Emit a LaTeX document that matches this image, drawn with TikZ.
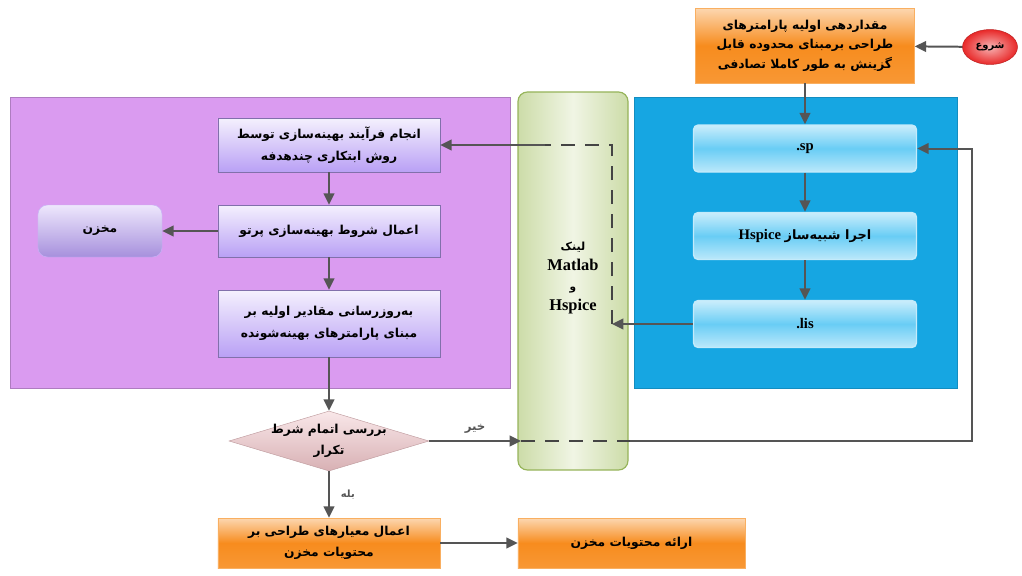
\documentclass[tikz,border=0pt]{standalone}
\usepackage{fontspec}
\setmainfont{Liberation Serif}
\newfontfamily\fa[Script=Arabic]{DejaVu Sans}
\TeXXeTstate=1
\usetikzlibrary{arrows.meta,shapes.geometric,positioning}
\definecolor{FlowOrange} {RGB}{247,140, 30}
\definecolor{FlowPurple} {RGB}{218,155,240}
\definecolor{FlowLav}    {RGB}{185,160,245}
\definecolor{FlowBlue}   {RGB}{ 22,166,226}
\definecolor{FlowCyan}   {RGB}{105,205,245}
\definecolor{FlowGreen}  {RGB}{218,230,188}
\definecolor{FlowOlive}  {RGB}{150,180, 90}
\definecolor{FlowPink}   {RGB}{240,196,200}
\definecolor{FlowRed}    {RGB}{232, 40, 40}
\definecolor{ArrGray}    {RGB}{ 85, 85, 85}
\newcommand{\fl}[1]{\beginR #1\endR}
\tikzset{
  %% panels
  panelP/.style={rectangle,fill=FlowPurple,draw=FlowPurple!80!black,
                 line width=0.4pt,inner sep=0pt},
  panelB/.style={rectangle,fill=FlowBlue,draw=FlowBlue!85!black,
                 line width=0.4pt,inner sep=0pt},
  panelG/.style={rectangle,rounded corners=8pt,draw=FlowOlive,line width=1pt,
                 left color=FlowGreen!80!FlowOlive,right color=FlowGreen!80!FlowOlive,
                 middle color=FlowGreen!40!white,inner sep=0pt,align=center},
  %% boxes
  obox/.style={rectangle,draw=FlowOrange!70!white,
               top color=FlowOrange!35!white,bottom color=FlowOrange!90!white,
               middle color=FlowOrange,
               minimum width=6.66cm,minimum height=1.5cm,align=center,
               font=\fa\bfseries\fontsize{10.5}{18}\selectfont},
  pbox/.style={rectangle,draw=FlowLav!70!black,
               top color=white!85!FlowLav,bottom color=FlowLav,
               minimum width=6.66cm,minimum height=1.56cm,align=center,
               font=\fa\bfseries\fontsize{10.5}{18.5}\selectfont},
  bbox/.style={rectangle,rounded corners=4pt,draw=white!60!FlowCyan,line width=1.2pt,
               top color=FlowCyan!35!white,bottom color=FlowCyan!45!white,
               middle color=FlowCyan,
               minimum width=6.69cm,minimum height=1.41cm,align=center,
               font=\bfseries\fontsize{12.5}{14}\selectfont},
  mbox/.style={rectangle,rounded corners=8pt,draw=FlowLav!80!white,
               top color=white!75!FlowLav,bottom color=FlowLav!90!black,
               minimum width=3.72cm,minimum height=1.56cm,align=center,
               font=\fa\bfseries\fontsize{10.5}{15}\selectfont},
  dbox/.style={diamond,aspect=3.3,inner sep=0pt,draw=FlowPink!80!black,
               top color=FlowPink!40!white,bottom color=FlowPink!90!black,
               minimum width=6cm,minimum height=1.8cm},
  dtext/.style={align=center,font=\fa\bfseries\fontsize{10.5}{18}\selectfont},
  sbox/.style={ellipse,inner color=FlowRed!35!white,outer color=FlowRed,
               draw=FlowRed!80!black,
               minimum width=1.65cm,minimum height=1.05cm,inner sep=0pt,
               font=\fa\bfseries\fontsize{8.5}{10}\selectfont},
  lbl/.style={font=\fa\bfseries\fontsize{10}{12}\selectfont},
  %% arrows
  parr/.style={-{Triangle[length=3.4mm,width=3.2mm]},line width=1.7pt,color=ArrGray},
  pdash/.style={line width=1.7pt,color=ArrGray!80!black,
                dash pattern=on 4.2mm off 3mm},
}
\begin{document}
\begin{tikzpicture}[x=0.03cm,y=-0.03cm]
    \useasboundingbox (0,0) rectangle (1022,575);

    %% ── panels ─────────────────────────────────────────────
    \node[panelP,minimum width=15cm,minimum height=8.73cm] (pnlP) at (260,242.5) {};
    \node[panelB,minimum width=9.69cm,minimum height=8.73cm] (pnlB) at (795.5,242.5) {};
    \node[panelG,minimum width=3.3cm,minimum height=11.34cm] (pnlG) at (573,281) {};
    \node[font=\bfseries\fontsize{14}{17}\selectfont,align=center] (lnk) at (573,278)
      {{\fa\fontsize{9.5}{16}\selectfont\fl{لینک}}\\Matlab\\{\fa\fontsize{9}{12}\selectfont\fl{و}}\\Hspice};

    %% ── start and initialisation ──────────────────────────
    \node[sbox] (st) at (990,47) {\fl{شروع}};
    \node[obox,minimum width=6.57cm,minimum height=2.25cm,
          font=\fa\bfseries\fontsize{10.5}{16.5}\selectfont] (ini) at (805,45.5)
      {\fl{مقداردهی اولیه پارامترهای}\\\fl{طراحی  برمبنای محدوده قابل}\\\fl{گزینش به طور کاملا تصادفی}};
    \draw[parr] (st) -- (ini);

    %% ── blue column: .sp → Hspice → .lis ──────────────────
    \node[bbox] (sp)  at (805,148.5) {.sp};
    \node[bbox] (hsp) at (805,236)
      {\fl{{\fa\fontsize{11}{14}\selectfont اجرا شبیه‌ساز} \beginL Hspice\endL}};
    \node[bbox] (lis) at (805,324)   {.lis};

    \draw[parr] (ini) -- (sp);
    \draw[parr] (sp) -- (hsp);
    \draw[parr] (hsp) -- (lis);

    %% ── link back to the optimiser (dashed through the link panel) ──
    \coordinate (lk1) at (612,324);
    \coordinate (lk2) at (612,145);
    \coordinate (lk3) at (545,145);
    \draw[parr] (lis.west) -- (lk1);
    \draw[pdash] (lk1) -- (lk2) -- (lk3);

    %% ── purple column ─────────────────────────────────────
    \node[pbox,minimum height=1.62cm] (op1) at (329,145)
      {\fl{انجام فرآیند بهینه‌سازی توسط}\\\fl{روش ابتکاری چندهدفه}};
    \node[pbox] (op2) at (329,231) {\fl{اعمال شروط بهینه‌سازی پرتو}};
    \node[pbox,minimum height=2.01cm] (op3) at (329,323.5)
      {\fl{به‌روزرسانی مقادیر اولیه بر}\\\fl{مبنای پارامترهای بهینه‌شونده}};
    \node[mbox] (mkz) at (100,231) {\fl{مخزن}};

    \draw[parr] (lk3) -- (op1);
    \draw[parr] (op1) -- (op2);
    \draw[parr] (op2) -- (op3);
    \draw[parr] (op2) -- (mkz);

    %% ── stop check ────────────────────────────────────────
    \node[dbox] (chk) at (329,441) {};
    \node[dtext] (chkt) at (chk.center) {\fl{بررسی اتمام شرط}\\\fl{تکرار}};
    \draw[parr] (op3) -- (chk);

    \coordinate (rt1) at (521,441);
    \coordinate (rt2) at (630,441);
    \coordinate (rt3) at (972,148.5);
    \draw[parr] (chk.east) -- node[lbl,above=2pt]{\fl{خیر}} (rt1);
    \draw[pdash] (rt1) -- (rt2);
    \draw[parr] (rt2) -| (rt3) -- (sp.east);

    %% ── result boxes ──────────────────────────────────────
    \node[obox] (fb1) at (329,543)
      {\fl{اعمال معیارهای طراحی بر}\\\fl{محتویات مخزن}};
    \node[obox,minimum width=6.81cm] (fb2) at (631.5,543) {\fl{ارائه محتویات مخزن}};

    \draw[parr] (chk.south) -- node[lbl,right=6pt,font=\fa\bfseries\fontsize{8.5}{10}\selectfont]{\fl{بله}} (fb1);
    \draw[parr] (fb1) -- (fb2);
\end{tikzpicture}
\end{document}
